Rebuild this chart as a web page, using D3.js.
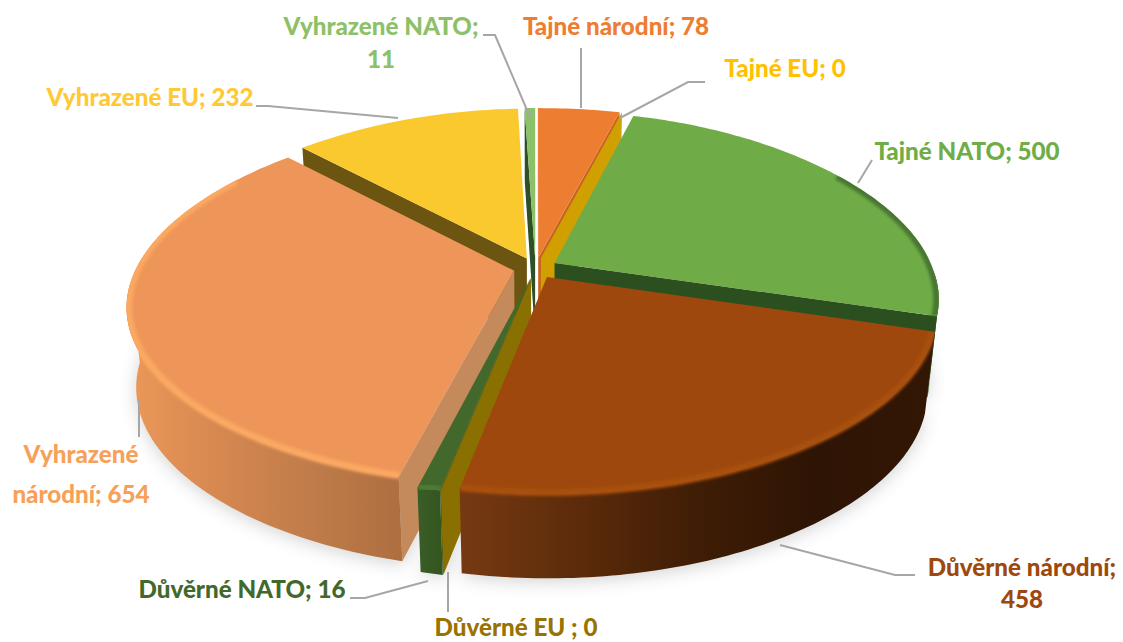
<!DOCTYPE html>
<html><head><meta charset="utf-8">
<script src="https://cdn.jsdelivr.net/npm/d3@7/dist/d3.min.js"></script>
<style>html,body{margin:0;padding:0;background:#fff;overflow:hidden}text{font-family:Lato,"Noto Sans",sans-serif;font-weight:900}</style>
</head><body><svg id="c" width="1123" height="642"></svg>
<script>
const categories = ["Tajné národní","Tajné EU","Tajné NATO","Důvěrné národní","Důvěrné EU ","Důvěrné NATO","Vyhrazené národní","Vyhrazené EU","Vyhrazené NATO"];
const values = [78,0,500,458,0,16,654,232,11];

// styles
const topColors  = ["#ED7D31","#FFC000","#6FAC47","#9E480E","#997300","#43682B","#EE9659","#F9C92E","#8CC168"];
const radialColors = ["#C8641F","#CFA000","#2B4F1F","#7A370A","#8A7000","#37571F","#C48A5C","#6B5510","#2F4F27"];
const wallStops = [
 ["#B5591C","#8A4212"],["#BF9000","#8A7000"],["#2B4F1F","#2B4F1F"],
 ["#763A12","#5C2B0A","#3F1D06","#2E1404","#331704"],["#A08000","#8A7000"],["#3A5E27","#33551F"],
 ["#EC9859","#D68850","#C07C4A","#AE6E40"],["#C89F20","#A08018"],["#5D8F3A","#4A7A30"]];
const rimColors = ["#F08A40",null,"#4A7630","#A84F0F",null,"#4F7A36","#FBA862",null,null];
const labelColors = ["#ED7D31","#FFC000","#70AD47","#9E480E","#997300","#43682B","#F7A05A","#FFC933","#8CC168"];
const drawOrder = [7,8,0,1,2,6,5,4,3];

const labelLayout = [
 {lines:["Tajné národní; 78"],x:616,y:[35]},
 {lines:["Tajné EU; 0"],x:785,y:[77]},
 {lines:["Tajné NATO; 500"],x:967,y:[160]},
 {lines:["Důvěrné národní;","458"],x:1022,y:[576,608]},
 {lines:["Důvěrné EU ; 0"],x:516,y:[636]},
 {lines:["Důvěrné NATO; 16"],x:242,y:[598]},
 {lines:["Vyhrazené","národní; 654"],x:81,y:[463,503]},
 {lines:["Vyhrazené EU; 232"],x:150,y:[106]},
 {lines:["Vyhrazené NATO;","11"],x:381,y:[35,68]}];
const leaderLayout = [
 [[581,48],[581,108]],
 [[705,82],[688,82],[620,118]],
 [[872,160],[858,183]],
 [[915,575],[895,575],[780,545]],
 [[448,572],[448,612]],
 [[350,598],[365,598],[428,581]],
 [[139,400],[139,437]],
 [[256,106],[268,106],[398,118]],
 [[483,35],[495,35],[530,117]]];

const W=1123,H=642, cx=535.5, cy=268, R=378, explode=22, depth=83, tilt=0.47, persp=1072, depthPersp=0.55;
const svg=d3.select("#c");
const defs=svg.append("defs");
const pie=d3.pie().sort(null).startAngle(0).endAngle(2*Math.PI).value(d=>d);
const arcs=pie(values);

function project(X,Y,z){ // z = distance below the top face
  const a=Y*tilt;
  const k=persp/(persp-a+z*depthPersp);
  const kx=1/(1-a/860+1.35e-6*a*a+z*0.3/persp);
  const skew=Math.max(0,-a)*Math.min(Math.max(0,X),100)*0.0004;
  return [cx+X*kx+skew, cy+(a+z)*k];
}
const line=d3.line();
const closed=pts=>line(pts)+"Z";
function slicePts(s){
  const mid=(s.startAngle+s.endAngle)/2;
  const ox=explode*Math.sin(mid), oy=-explode*Math.cos(mid);
  const at=(ang,r,z)=>project(ox+r*Math.sin(ang),oy-r*Math.cos(ang),z);
  const step=Math.PI/180;
  const angs=d3.range(s.startAngle,s.endAngle,step).concat([s.endAngle]);
  return {at,angs,apex:z=>project(ox,oy,z)};
}
const area=p=>d3.polygonArea(p);

const chart=svg.append("g");
// soft shadow
defs.append("filter").attr("id","blurS").attr("x","-20%").attr("y","-20%").attr("width","140%").attr("height","140%")
  .append("feGaussianBlur").attr("stdDeviation",9);
defs.append("filter").attr("id","blurR").attr("x","-20%").attr("y","-20%").attr("width","140%").attr("height","140%")
  .append("feGaussianBlur").attr("stdDeviation",1.6);
const sh=chart.append("g").attr("filter","url(#blurS)").attr("opacity",0.24);
arcs.filter(s=>Math.cos((s.startAngle+s.endAngle)/2)<0.6).forEach(s=>{
  const g=slicePts(s);
  const bottom=[g.apex(depth+3)].concat(g.angs.map(a=>g.at(a,R,depth+3)));
  sh.append("path").attr("d",closed(bottom)).attr("fill","#444");
});

drawOrder.forEach(i=>{
  const s=arcs[i], g=slicePts(s), G=chart.append("g");
  // radial walls that face the viewer
  const q=(ang)=>[g.apex(0),g.at(ang,R,0),g.at(ang,R,depth),g.apex(depth)];
  const qs=q(s.startAngle), qe=q(s.endAngle);
  const zero=s.endAngle===s.startAngle;
  if(area(qs)>0 || zero) G.append("path").attr("d",closed(qs)).attr("fill",radialColors[i]);
  if(area(qe)<0 && !zero) G.append("path").attr("d",closed(qe)).attr("fill",radialColors[i]);
  // outer wall
  const front=g.angs.filter(a=>Math.cos(a)<-0.05);
  let wallPath=null;
  if(front.length>1){
    const pts=front.map(a=>g.at(a,R,0)).concat(front.slice().reverse().map(a=>g.at(a,R,depth)));
    const ext=d3.extent(pts,p=>p[0]);
    const gid="wg"+i;
    const lg=defs.append("linearGradient").attr("id",gid).attr("gradientUnits","userSpaceOnUse")
      .attr("x1",ext[0]).attr("x2",ext[1]).attr("y1",0).attr("y2",0);
    const st=wallStops[i];
    st.forEach((c,j)=>lg.append("stop").attr("offset",j/(st.length-1)).attr("stop-color",c));
    wallPath=closed(pts);
    G.append("path").attr("d",wallPath).attr("fill",`url(#${gid})`);
  }
  // top face
  const topPts=[g.apex(0)].concat(g.angs.map(a=>g.at(a,R,0)));
  const topPath=closed(topPts);
  G.append("path").attr("d",topPath).attr("fill",topColors[i]);
  // bevelled rim
  const rimAngs=g.angs.filter(a=>Math.cos(a)<0.55);
  if(rimColors[i] && rimAngs.length>1){
    const cid="cl"+i;
    const cp=defs.append("clipPath").attr("id",cid);
    cp.append("path").attr("d",topPath);
    if(wallPath) cp.append("path").attr("d",wallPath);
    G.append("g").attr("clip-path",`url(#${cid})`)
     .append("path").attr("d",line(rimAngs.map(a=>g.at(a,R-2,0))))
     .attr("fill","none").attr("stroke",rimColors[i]).attr("stroke-width",7).attr("filter","url(#blurR)");
  }
});

// leaders
leaderLayout.forEach(l=>svg.append("path").attr("d",line(l)).attr("fill","none").attr("stroke","#A6A6A6").attr("stroke-width",2));
// labels
labelLayout.forEach((l,i)=>l.lines.forEach((t,j)=>{
  svg.append("text").attr("x",l.x).attr("y",l.y[j]).attr("text-anchor","middle")
    .attr("font-size",24.2).attr("fill",labelColors[i]).text(t);
}));
</script></body></html>
